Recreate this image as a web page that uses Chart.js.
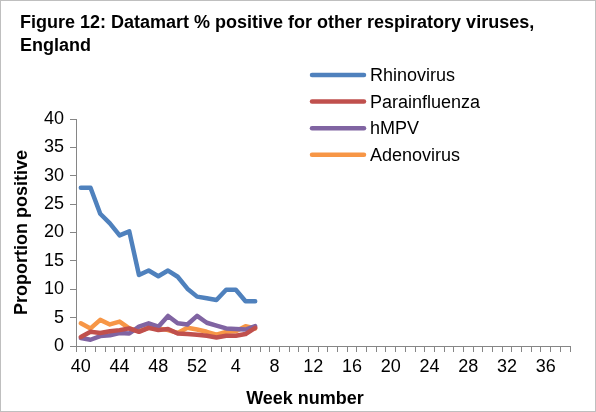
<!DOCTYPE html>
<html>
<head>
<meta charset="utf-8">
<script src="https://cdn.jsdelivr.net/npm/chart.js@4.4.1/dist/chart.umd.min.js"></script>
<style>
  body { margin: 0; background: #fff; }
  #wrap { position: relative; width: 596px; height: 412px; }
  #frame { position: absolute; left: 0; top: 0; width: 596px; height: 412px; box-sizing: border-box; border: 1px solid #bfbfbf; pointer-events: none; }
</style>
</head>
<body>
<div id="wrap">
  <canvas id="myChart" width="596" height="412"></canvas>
  <div id="frame"></div>
</div>
<script>
// week numbers along the x axis
var weeks = ['40', '41', '42', '43', '44', '45', '46', '47', '48', '49', '50', '51', '52',
    '1', '2', '3', '4', '5', '6', '7', '8', '9', '10', '11', '12', '13', '14', '15', '16',
    '17', '18', '19', '20', '21', '22', '23', '24', '25', '26', '27', '28', '29', '30',
    '31', '32', '33', '34', '35', '36', '37', '38'];

// % positive, weeks 40 to 6
var rhinovirus    = [27.9, 27.9, 23.3, 21.6, 19.5, 20.2, 12.5, 13.3, 12.3, 13.3, 12.2, 10.1, 8.7, 8.4, 8.1, 9.9, 9.9, 7.9, 7.9];
var parainfluenza = [1.6, 2.5, 2.3, 2.6, 2.8, 3.1, 2.5, 3.2, 2.8, 3.0, 2.2, 2.1, 2.0, 1.8, 1.5, 1.8, 1.8, 2.1, 3.2];
var hmpv          = [1.4, 1.1, 1.75, 1.9, 2.3, 2.2, 3.4, 4.0, 3.4, 5.3, 4.0, 3.8, 5.3, 4.1, 3.6, 3.1, 3.0, 2.9, 3.5];
var adenovirus    = [4.0, 3.1, 4.6, 3.8, 4.3, 3.1, 2.6, 3.2, 3.1, 2.8, 2.3, 3.2, 2.9, 2.5, 2.0, 2.5, 2.6, 3.5, 3.1];

var yTicks = [0, 5, 10, 15, 20, 25, 30, 35, 40];

var FONT = 'Arial, "Liberation Sans", sans-serif';

// legend drawn in the upper middle, overlapping the plot like the original
// also the x axis title, which sits a bit left of the axis centre
var extras = {
    id: 'extras',
    afterDraw: function (chart) {
        var ctx = chart.ctx;
        ctx.save();
        ctx.font = '18px ' + FONT;
        ctx.textBaseline = 'middle';
        ctx.lineCap = 'round';
        chart.data.datasets.forEach(function (ds, i) {
            var y = 75 + i * 26.6;
            ctx.strokeStyle = ds.borderColor;
            ctx.lineWidth = 4.5;
            ctx.beginPath();
            ctx.moveTo(312, y);
            ctx.lineTo(364, y);
            ctx.stroke();
            ctx.fillStyle = '#000';
            ctx.fillText(ds.label, 370, y + 1);
        });

        ctx.font = 'bold 18px ' + FONT;
        ctx.textAlign = 'center';
        ctx.fillText('Week number', 305, 399);
        ctx.restore();
    }
};

var ctx = document.getElementById('myChart').getContext('2d');
var chart = new Chart(ctx, {
    type: 'line',
    data: {
        labels: weeks,
        datasets: [
            { label: 'Rhinovirus', data: rhinovirus, borderColor: '#4F81BD', backgroundColor: '#4F81BD' },
            { label: 'Parainfluenza', data: parainfluenza, borderColor: '#C0504D', backgroundColor: '#C0504D' },
            { label: 'hMPV', data: hmpv, borderColor: '#8064A2', backgroundColor: '#8064A2' },
            { label: 'Adenovirus', data: adenovirus, borderColor: '#F79646', backgroundColor: '#F79646' }
        ]
    },
    options: {
        responsive: false,
        animation: false,
        elements: {
            line: { borderWidth: 4.5, tension: 0, borderJoinStyle: 'round', borderCapStyle: 'round' },
            point: { radius: 0, hoverRadius: 0 }
        },
        layout: { padding: { left: 20, right: 26, top: 0, bottom: 4 } },
        plugins: {
            legend: { display: false },
            tooltip: { enabled: false },
            title: {
                display: true,
                text: ['Figure 12: Datamart % positive for other respiratory viruses,', 'England'],
                align: 'start',
                color: '#000',
                font: { family: FONT, size: 18, weight: 'bold', lineHeight: 1.25 },
                padding: { top: 12, bottom: 62 }
            }
        },
        scales: {
            x: {
                offset: true,
                grid: { offset: true, drawOnChartArea: false, tickLength: 6, color: '#868686', tickColor: '#868686' },
                border: { color: '#868686', width: 1 },
                ticks: {
                    autoSkip: false,
                    maxRotation: 0,
                    color: '#000',
                    padding: 4,
                    font: { family: FONT, size: 18 },
                    callback: function (val, i) { return i % 4 === 0 ? weeks[i] : ''; }
                },
                afterFit: function (scale) { scale.height = 62; }
            },
            y: {
                min: 0,
                max: 40,
                afterBuildTicks: function (scale) {
                    scale.ticks = yTicks.map(function (v) { return { value: v }; });
                },
                grid: { drawOnChartArea: false, tickLength: 6, color: '#868686', tickColor: '#868686' },
                border: { color: '#868686', width: 1 },
                ticks: { color: '#000', padding: 6, font: { family: FONT, size: 18 } },
                title: {
                    display: true,
                    text: 'Proportion positive',
                    color: '#000',
                    font: { family: FONT, size: 18, weight: 'bold' },
                    padding: { top: -9, bottom: 0 }
                },
                afterFit: function (scale) { scale.width = 56; }
            }
        }
    },
    plugins: [extras]
});
</script>
</body>
</html>
